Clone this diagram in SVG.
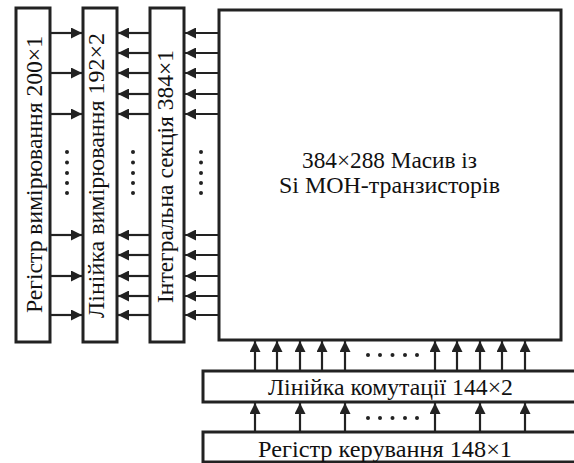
<svg xmlns="http://www.w3.org/2000/svg" width="574" height="463" viewBox="0 0 574 463">
<style>
.box{fill:#fff;stroke:#222;stroke-width:3}
.ln{stroke:#222;stroke-width:2.2;fill:none;marker-end:url(#ah)}
.t{font-family:"Liberation Serif","Tinos","DejaVu Serif","Noto Serif",serif;font-size:23px;fill:#111}
.dot{fill:#222}
</style>
<defs>
<marker id="ah" markerUnits="userSpaceOnUse" markerWidth="11" markerHeight="11" refX="11" refY="5.5" orient="auto">
<path d="M0,0 L11,5.5 L0,11 z" fill="#222"/>
</marker>
</defs>
<rect width="574" height="463" fill="#fff"/>
<g id="connectors">
<line class="ln" x1="50" y1="33" x2="82" y2="33"/>
<line class="ln" x1="50" y1="73" x2="82" y2="73"/>
<line class="ln" x1="50" y1="114" x2="82" y2="114"/>
<line class="ln" x1="50" y1="235" x2="82" y2="235"/>
<line class="ln" x1="50" y1="276" x2="82" y2="276"/>
<line class="ln" x1="50" y1="315" x2="82" y2="315"/>
<line class="ln" x1="150" y1="33" x2="118" y2="33"/>
<line class="ln" x1="150" y1="53" x2="118" y2="53"/>
<line class="ln" x1="150" y1="73" x2="118" y2="73"/>
<line class="ln" x1="150" y1="94" x2="118" y2="94"/>
<line class="ln" x1="150" y1="114" x2="118" y2="114"/>
<line class="ln" x1="150" y1="235" x2="118" y2="235"/>
<line class="ln" x1="150" y1="255" x2="118" y2="255"/>
<line class="ln" x1="150" y1="276" x2="118" y2="276"/>
<line class="ln" x1="150" y1="296" x2="118" y2="296"/>
<line class="ln" x1="150" y1="315" x2="118" y2="315"/>
<line class="ln" x1="219" y1="33" x2="185" y2="33"/>
<line class="ln" x1="219" y1="53" x2="185" y2="53"/>
<line class="ln" x1="219" y1="73" x2="185" y2="73"/>
<line class="ln" x1="219" y1="94" x2="185" y2="94"/>
<line class="ln" x1="219" y1="114" x2="185" y2="114"/>
<line class="ln" x1="219" y1="235" x2="185" y2="235"/>
<line class="ln" x1="219" y1="255" x2="185" y2="255"/>
<line class="ln" x1="219" y1="276" x2="185" y2="276"/>
<line class="ln" x1="219" y1="296" x2="185" y2="296"/>
<line class="ln" x1="219" y1="315" x2="185" y2="315"/>
<line class="ln" x1="255" y1="371" x2="255" y2="341"/>
<line class="ln" x1="277" y1="371" x2="277" y2="341"/>
<line class="ln" x1="300" y1="371" x2="300" y2="341"/>
<line class="ln" x1="322" y1="371" x2="322" y2="341"/>
<line class="ln" x1="345" y1="371" x2="345" y2="341"/>
<line class="ln" x1="435" y1="371" x2="435" y2="341"/>
<line class="ln" x1="457" y1="371" x2="457" y2="341"/>
<line class="ln" x1="480" y1="371" x2="480" y2="341"/>
<line class="ln" x1="502" y1="371" x2="502" y2="341"/>
<line class="ln" x1="525" y1="371" x2="525" y2="341"/>
<line class="ln" x1="255" y1="432" x2="255" y2="403"/>
<line class="ln" x1="300" y1="432" x2="300" y2="403"/>
<line class="ln" x1="345" y1="432" x2="345" y2="403"/>
<line class="ln" x1="435" y1="432" x2="435" y2="403"/>
<line class="ln" x1="480" y1="432" x2="480" y2="403"/>
<line class="ln" x1="525" y1="432" x2="525" y2="403"/>
<g class="dot">
<circle cx="67" cy="152" r="2"/><circle cx="67" cy="162.5" r="2"/><circle cx="67" cy="173" r="2"/><circle cx="67" cy="183" r="2"/><circle cx="67" cy="193" r="2"/>
<circle cx="133" cy="152" r="2"/><circle cx="133" cy="162.5" r="2"/><circle cx="133" cy="173" r="2"/><circle cx="133" cy="183" r="2"/><circle cx="133" cy="193" r="2"/>
<circle cx="201" cy="152" r="2"/><circle cx="201" cy="162.5" r="2"/><circle cx="201" cy="173" r="2"/><circle cx="201" cy="183" r="2"/><circle cx="201" cy="193" r="2"/>
<circle cx="368" cy="355" r="2"/><circle cx="380" cy="355" r="2"/><circle cx="392.5" cy="355" r="2"/><circle cx="405" cy="355" r="2"/><circle cx="417" cy="355" r="2"/>
<circle cx="368" cy="418" r="2"/><circle cx="380" cy="418" r="2"/><circle cx="392.5" cy="418" r="2"/><circle cx="405" cy="418" r="2"/><circle cx="417" cy="418" r="2"/>
</g>
</g>
<g id="reg-vym">
<rect class="box" x="16" y="8" width="34" height="334"/>
<text class="t" transform="translate(42,174.5) rotate(-90)" text-anchor="middle" textLength="277" lengthAdjust="spacingAndGlyphs">Регістр вимірювання 200×1</text>
</g>
<g id="lin-vym">
<rect class="box" x="83" y="8" width="34" height="334"/>
<text class="t" transform="translate(104,175.5) rotate(-90)" text-anchor="middle" textLength="285" lengthAdjust="spacingAndGlyphs">Лінійка вимірювання 192×2</text>
</g>
<g id="int-sek">
<rect class="box" x="150" y="8" width="34" height="334"/>
<text class="t" transform="translate(173,176.5) rotate(-90)" text-anchor="middle" textLength="253" lengthAdjust="spacingAndGlyphs">Інтегральна секція 384×1</text>
</g>
<g id="masyv">
<rect class="box" x="219" y="10" width="342" height="330"/>
<text class="t" x="389.5" y="168" text-anchor="middle" textLength="175" lengthAdjust="spacingAndGlyphs">384×288 Масив із</text>
<text class="t" x="389.5" y="193" text-anchor="middle" textLength="221" lengthAdjust="spacingAndGlyphs">Si МОН-транзисторів</text>
</g>
<g id="lin-kom">
<rect class="box" x="203" y="371" width="380" height="31"/>
<text class="t" x="390.5" y="395" text-anchor="middle" textLength="245" lengthAdjust="spacingAndGlyphs">Лінійка комутації 144×2</text>
</g>
<g id="reg-ker">
<rect class="box" x="203" y="432" width="380" height="30"/>
<text class="t" x="385" y="457" text-anchor="middle" textLength="254" lengthAdjust="spacingAndGlyphs">Регістр керування 148×1</text>
</g>
</svg>
